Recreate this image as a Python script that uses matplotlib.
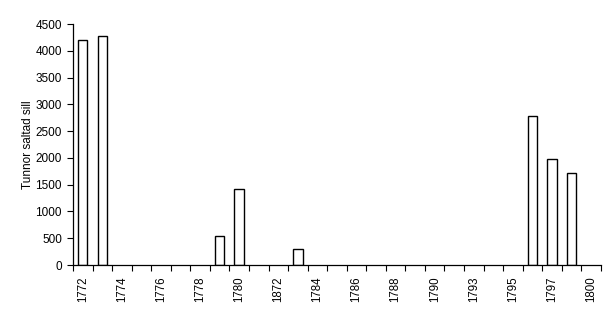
import matplotlib
matplotlib.use("Agg")
import matplotlib.pyplot as plt
import numpy as np

plt.rcParams['font.family'] = ['Liberation Sans', 'DejaVu Sans']

# years as they appear on the category axis (typo "1872" kept from the original)
years = ['1772', '1773', '1774', '1775', '1776', '1777', '1778', '1779', '1780',
         '1781', '1872', '1783', '1784', '1785', '1786', '1787', '1788', '1789',
         '1790', '1792', '1793', '1794', '1795', '1796', '1797', '1798', '1800']
sill = [4200, 4270, 0, 0, 0, 0, 0, 550, 1420,
        0, 0, 300, 0, 0, 0, 0, 0, 0,
        0, 0, 0, 0, 0, 2780, 1980, 1710, 0]

fig = plt.figure(figsize=(6.16, 3.12), dpi=100)
ax = fig.add_axes([0.1185, 0.1506, 0.857, 0.7724])

x = np.arange(len(years))
vals = np.array(sill)
has = vals > 0
ax.bar(x[has], vals[has], width=0.48, color='white', edgecolor='black', linewidth=1.0)

ax.set_xlim(-0.5, len(years) - 0.5)
ax.set_ylim(0, 4500)
ax.set_yticks(np.arange(0, 4501, 500))

ax.set_xticks(x[::2])
ax.set_xticklabels(years[::2], rotation=90)
ax.set_xticks(np.arange(-0.5, len(years)), minor=True)
ax.tick_params(axis='x', which='major', length=0, pad=8, labelsize=8.3)
ax.tick_params(axis='x', which='minor', length=4, width=0.8, direction='out')
ax.tick_params(axis='y', length=4, width=0.8, labelsize=8.5, pad=4)

ax.set_ylabel('Tunnor saltad sill', fontsize=8.5, labelpad=1)

for s in ['top', 'right']:
    ax.spines[s].set_visible(False)
ax.spines['left'].set_linewidth(0.9)
ax.spines['bottom'].set_linewidth(0.9)

fig.savefig('out.png', dpi=100)
